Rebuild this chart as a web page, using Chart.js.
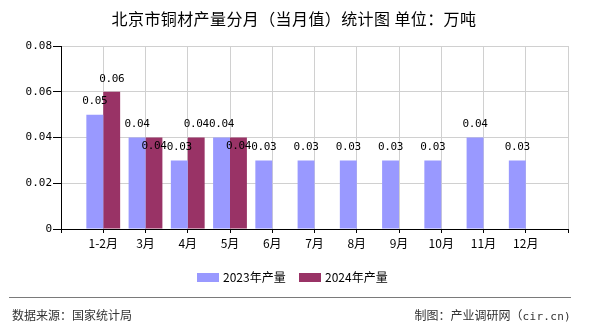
<!DOCTYPE html>
<html>
<head>
<meta charset="utf-8">
<script src="https://cdn.jsdelivr.net/npm/chart.js@4/dist/chart.umd.min.js"></script>
<style>
  html, body { margin: 0; padding: 0; background: #fff; }
  #wrap { position: relative; width: 590px; height: 330px; overflow: hidden; font-family: "Noto Sans CJK SC", sans-serif; }
  #c { position: absolute; left: 0; top: 0; }
  #title { position: absolute; left: 0; width: 588px; top: 7px; text-align: center; font-size: 16px; letter-spacing: 0.4px; line-height: 22px; color: #000; }
  .leg-box { position: absolute; top: 273px; width: 22px; height: 9px; }
  .leg-txt { position: absolute; top: 269px; font-size: 12px; line-height: 16px; color: #000; }
  #sep { position: absolute; left: 9px; top: 297px; width: 562px; height: 1px; background: #7a7a7a; }
  .foot { position: absolute; top: 307px; font-size: 12px; line-height: 16px; color: #333; }
  .mono { font-family: "DejaVu Sans Mono", monospace; font-size: 11px; letter-spacing: 0.3px; }
</style>
</head>
<body>
<div id="wrap">
  <canvas id="c" width="590" height="330"></canvas>
  <div id="title">北京市铜材产量分月（当月值）统计图 单位：万吨</div>
  <div class="leg-box" style="left:197px;background:#9999ff"></div>
  <div class="leg-txt" style="left:223px">2023年产量</div>
  <div class="leg-box" style="left:299px;background:#993366"></div>
  <div class="leg-txt" style="left:325px">2024年产量</div>
  <div id="sep"></div>
  <div class="foot" style="left:12px">数据来源：国家统计局</div>
  <div class="foot" style="right:19px">制图：产业调研网（<span class="mono">cir.cn)</span></div>
</div>
<script>
const categories = ['1-2月', '3月', '4月', '5月', '6月', '7月', '8月', '9月', '10月', '11月', '12月'];
const values2023 = [0.05, 0.04, 0.03, 0.04, 0.03, 0.03, 0.03, 0.03, 0.03, 0.04, 0.03];
const values2024 = [0.06, 0.04, 0.04, 0.04, null, null, null, null, null, null, null];
const seriesNames = ['2023年产量', '2024年产量'];
const yTicks = [0, 0.02, 0.04, 0.06, 0.08];

// axis spans one empty slot before the first and after the last category
const labels = [''].concat(categories, ['']);
const pad = arr => [null].concat(arr, [null]);

const monoFont = { family: '"DejaVu Sans Mono", monospace', size: 11 };

const dataLabelPlugin = {
  id: 'dataLabels',
  afterDatasetsDraw(chart) {
    const ctx = chart.ctx;
    ctx.save();
    ctx.font = '11px "DejaVu Sans Mono", monospace';
    try { ctx.letterSpacing = '-0.4px'; } catch (e) {}
    ctx.fillStyle = '#000';
    ctx.textAlign = 'center';
    ctx.textBaseline = 'middle';
    const n = chart.data.labels.length;
    for (let i = 0; i < n; i++) {
      const placed = []; // labels of the same category must not collide
      chart.data.datasets.forEach((ds, di) => {
        const v = ds.data[i];
        if (v === null || v === undefined) return;
        const el = chart.getDatasetMeta(di).data[i];
        const txt = v.toFixed(2);
        const w = ctx.measureText(txt).width;
        const h = 11;
        let y = el.y - 13;
        const box = y0 => ({ l: el.x - w / 2, r: el.x + w / 2, t: y0 - h / 2, b: y0 + h / 2 });
        let b = box(y);
        const hit = placed.some(p => !(b.r <= p.l || b.l >= p.r || b.b <= p.t || b.t >= p.b));
        if (hit) { y = el.y + 8.5; b = box(y); }
        placed.push(b);
        ctx.fillText(txt, el.x, y);
      });
    }
    ctx.restore();
  }
};

new Chart(document.getElementById('c'), {
  type: 'bar',
  data: {
    labels: labels,
    datasets: [
      { label: seriesNames[0], data: pad(values2023), backgroundColor: '#9999ff' },
      { label: seriesNames[1], data: pad(values2024), backgroundColor: '#993366' }
    ]
  },
  options: {
    responsive: false,
    animation: false,
    devicePixelRatio: 1,
    layout: { padding: { left: 0, right: 22, top: 46, bottom: 0 } },
    categoryPercentage: 0.8,
    barPercentage: 1.0,
    plugins: { legend: { display: false }, tooltip: { enabled: false }, title: { display: false } },
    scales: {
      x: {
        offset: false,
        grid: { offset: false, color: '#d0d0d0', tickColor: '#000', tickLength: 4, lineWidth: 1 },
        border: { color: '#000', width: 1 },
        ticks: { color: '#000', padding: 3, autoSkip: false, maxRotation: 0, font: { family: '"Noto Sans CJK SC", sans-serif', size: 12 } },
        afterFit(scale) { scale.height = 101; }
      },
      y: {
        min: 0,
        max: 0.08,
        afterBuildTicks(scale) { scale.ticks = yTicks.map(v => ({ value: v })); },
        grid: { color: '#d0d0d0', tickColor: '#000', tickLength: 8, lineWidth: 1 },
        border: { color: '#000', width: 1 },
        ticks: {
          color: '#000', padding: 1, font: monoFont,
          callback: v => (v === 0 ? '0' : Number(v).toFixed(2))
        },
        afterFit(scale) { scale.width = 61; }
      }
    }
  },
  plugins: [dataLabelPlugin]
});
</script>
</body>
</html>
